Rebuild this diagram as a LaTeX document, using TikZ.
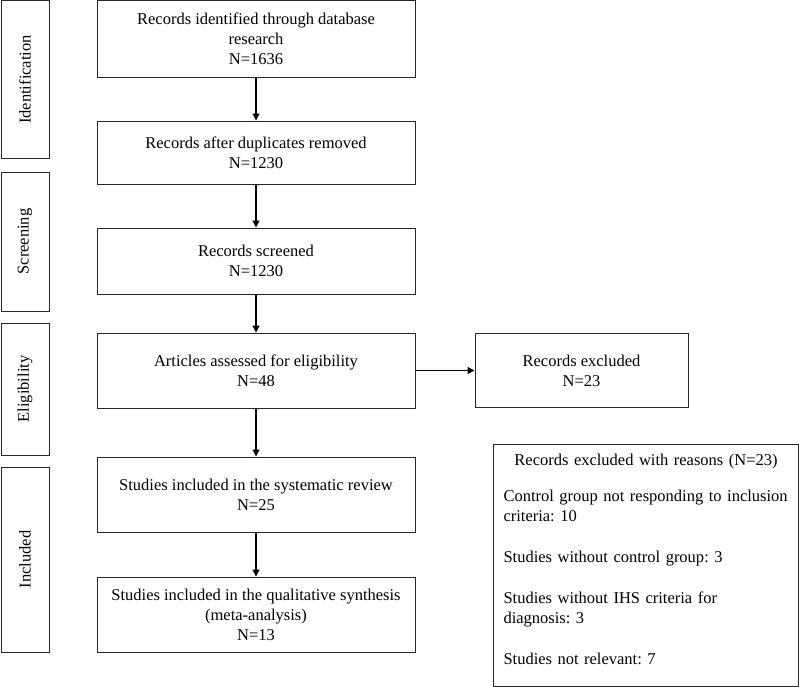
\documentclass[tikz,border=0pt]{standalone}
\usepackage{fontspec}
\setmainfont{Liberation Serif}
\usetikzlibrary{arrows.meta,positioning}

\begin{document}
\frenchspacing
\begin{tikzpicture}[x=1pt, y=-1pt,
    box/.style={draw=black!85, line width=1pt, align=center, font=\fontsize{16.5}{20}\selectfont, inner sep=0pt},
    phase/.style={box, minimum height=48pt, rotate=90},
    step box/.style={box, minimum width=318pt, minimum height=75pt},
    arr/.style={-{Triangle[length=7pt,width=7pt]}, line width=1.2pt}
]
\useasboundingbox (0,0) rectangle (799,686);

\node[phase, minimum width=158pt] (ident) at (25,79.5) {Identification};
\node[phase, minimum width=139pt] (screen) at (25,241.5) {Screening};
\node[phase, minimum width=132pt] (elig) at (25,389) {Eligibility};
\node[phase, minimum width=185pt] (incl) at (25,559.5) {Included};

\node[step box, minimum height=77pt] (found) at (256,39) {Records identified through database\\research\\N=1636};
\node[step box, minimum height=63pt] (dedup) at (256,152.5) {Records after duplicates removed\\N=1230};
\node[step box, minimum height=66pt] (screened) at (256,261) {Records screened\\N=1230};
\node[step box] (assess) at (256,370.5) {Articles assessed for eligibility\\N=48};
\node[step box] (review) at (256,494.5) {Studies included in the systematic review\\N=25};
\node[step box] (meta) at (256,614.5) {Studies included in the qualitative synthesis\\(meta-analysis)\\N=13};

\node[box, minimum width=213pt, minimum height=74pt] (excl) at (581.5,370.5) {Records excluded\\N=23};
\node[box, align=left, text width=285pt, inner xsep=10pt, minimum height=242pt, anchor=north west] (reasons) at (493,443.5) {%
\makebox[\linewidth]{Records excluded with reasons (N=23)}\\[16pt]
Control group not responding to inclusion\\
criteria: 10\\[21pt]
Studies without control group: 3\\[21pt]
Studies without IHS criteria for\\
diagnosis: 3\\[21pt]
Studies not relevant: 7\\[-8pt]\mbox{}};

\draw[arr] (found) -- (dedup);
\draw[arr] (dedup) -- (screened);
\draw[arr] (screened) -- (assess);
\draw[arr] (assess) -- (review);
\draw[arr] (review) -- (meta);
\draw[arr] (assess) -- (excl);
\end{tikzpicture}
\end{document}
